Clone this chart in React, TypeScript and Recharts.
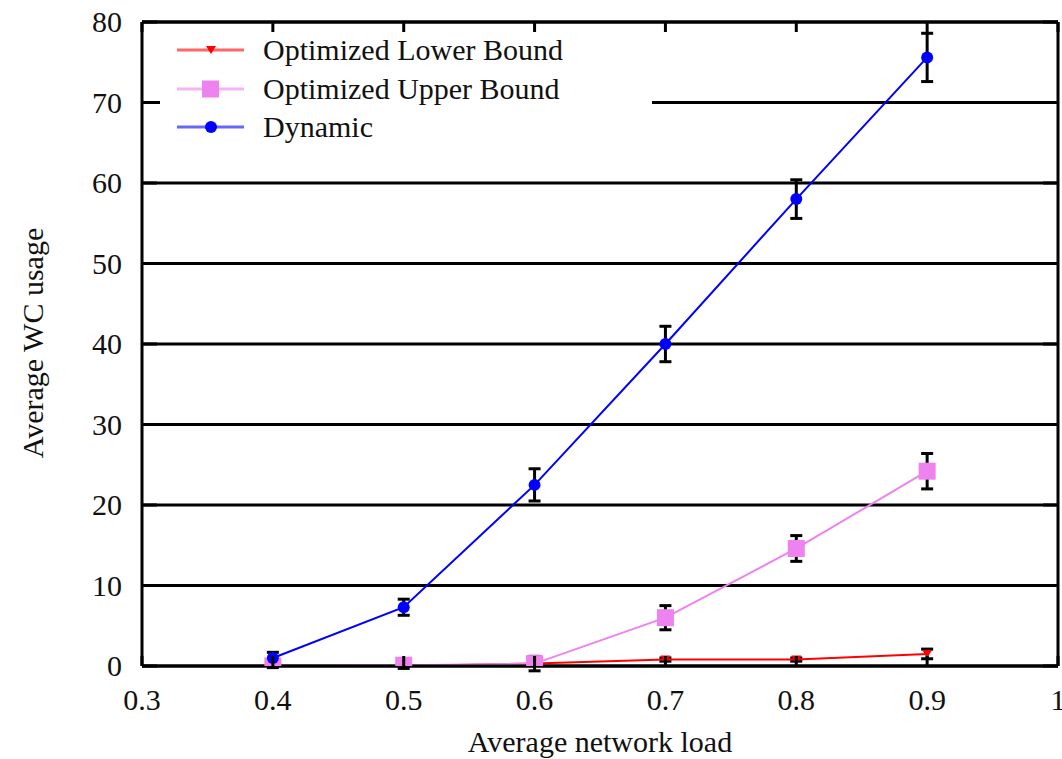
import {
  LineChart, Line, XAxis, YAxis, CartesianGrid, ErrorBar, Label,
} from 'recharts'

// average network load (x)
const loads = [0.4, 0.5, 0.6, 0.7, 0.8, 0.9]

// average WC usage per series, with error half-widths
const lowerBound = [0, 0, 0.3, 0.8, 0.8, 1.5]
const lowerErr = [0, 0, 0.1, 0.2, 0.2, 0.6]
const upperBound = [0, 0.1, 0.3, 6, 14.6, 24.2]
const upperErr = [0.2, 0.4, 0.9, 1.5, 1.6, 2.2]
const dynamic = [1, 7.3, 22.5, 40, 58, 75.6]
const dynamicErr = [0.7, 1.0, 2.0, 2.2, 2.4, 3.0]

const xTicks = [0.3, 0.4, 0.5, 0.6, 0.7, 0.8, 0.9, 1]
const yTicks = [0, 10, 20, 30, 40, 50, 60, 70, 80]

const seriesNames = ['Optimized Lower Bound', 'Optimized Upper Bound', 'Dynamic']
const seriesColors = ['#ff0000', '#ee82ee', '#0000ff']

const data = loads.map((load, i) => ({
  load,
  lower: lowerBound[i],
  lowerErr: lowerErr[i],
  upper: upperBound[i],
  upperErr: upperErr[i],
  dynamic: dynamic[i],
  dynamicErr: dynamicErr[i],
}))

const FONT = 'Liberation Serif, DejaVu Serif, Noto Serif, serif'
const fmtX = (v: number) => (v === 1 ? '1' : v.toFixed(1))

// gnuplot-ish inward ticks on all four sides
// eslint-disable-next-line @typescript-eslint/no-explicit-any
function BottomTick({ x, y, payload }: any) {
  return (
    <g>
      <line x1={x} x2={x} y1={y} y2={y - 10} stroke="#000" strokeWidth={3} />
      <text x={x} y={y + 44} textAnchor="middle" fontSize={30} fontFamily={FONT} fill="#111">
        {fmtX(payload.value)}
      </text>
    </g>
  )
}

// eslint-disable-next-line @typescript-eslint/no-explicit-any
function TopTick({ x, y }: any) {
  return <line x1={x} x2={x} y1={y} y2={y + 10} stroke="#000" strokeWidth={3} />
}

// eslint-disable-next-line @typescript-eslint/no-explicit-any
function LeftTick({ x, y, payload }: any) {
  return (
    <g>
      <line x1={x} x2={x + 15} y1={y} y2={y} stroke="#000" strokeWidth={3} />
      <text x={x - 20} y={y + 10} textAnchor="end" fontSize={30} fontFamily={FONT} fill="#111">
        {payload.value}
      </text>
    </g>
  )
}

// eslint-disable-next-line @typescript-eslint/no-explicit-any
function RightTick({ x, y }: any) {
  return <line x1={x} x2={x - 15} y1={y} y2={y} stroke="#000" strokeWidth={3} />
}

// markers
// eslint-disable-next-line @typescript-eslint/no-explicit-any
const triDot = (p: any) => (
  <path key={`l${p.index}`} d={`M${p.cx - 5},${p.cy - 4} L${p.cx + 5},${p.cy - 4} L${p.cx},${p.cy + 4} Z`} fill="#ff0000" />
)
// eslint-disable-next-line @typescript-eslint/no-explicit-any
const squareDot = (p: any) => (
  <rect key={`u${p.index}`} x={p.cx - 8.5} y={p.cy - 8.5} width={17} height={17} fill="#ee82ee" />
)
// eslint-disable-next-line @typescript-eslint/no-explicit-any
const circleDot = (p: any) => (
  <circle key={`d${p.index}`} cx={p.cx} cy={p.cy} r={6} fill="#0000ff" />
)

function LegendSample({ i }: { i: number }) {
  const c = seriesColors[i]
  return (
    <svg width={70} height={20} style={{ marginRight: 16 }}>
      <line x1={0} x2={67} y1={10} y2={10} stroke={c} strokeWidth={3} strokeOpacity={0.6} />
      {i === 0 && <path d="M29,6 L39,6 L34,14 Z" fill={c} />}
      {i === 1 && <rect x={25} y={1.5} width={17} height={17} fill={c} />}
      {i === 2 && <circle cx={34} cy={10} r={6} fill={c} />}
    </svg>
  )
}

export default function App() {
  return (
    <div style={{ position: 'relative', width: 1062, height: 759, background: '#fff' }}>
      <style>{'body{margin:0;background:#fff}'}</style>
      <LineChart width={1062} height={759} data={data} margin={{ top: 0, right: 0, bottom: 0, left: 0 }}>
        <CartesianGrid vertical={false} stroke="#000" strokeWidth={3} />
        <XAxis
          dataKey="load"
          type="number"
          domain={[0.3, 1]}
          allowDataOverflow
          ticks={xTicks}
          height={93}
          tickSize={0}
          tickMargin={0}
          tick={<BottomTick />}
          axisLine={{ stroke: '#000', strokeWidth: 3 }}
          tickLine={false}
        >
          <Label
            content={() => (
              <text x={600} y={752} textAnchor="middle" fontSize={30} fontFamily={FONT} fill="#111">
                Average network load
              </text>
            )}
          />
        </XAxis>
        <XAxis
          xAxisId="top"
          orientation="top"
          dataKey="load"
          type="number"
          domain={[0.3, 1]}
          allowDataOverflow
          ticks={xTicks}
          height={22}
          tickSize={0}
          tickMargin={0}
          tick={<TopTick />}
          axisLine={{ stroke: '#000', strokeWidth: 3 }}
          tickLine={false}
        />
        <YAxis
          type="number"
          domain={[0, 80]}
          allowDataOverflow
          ticks={yTicks}
          width={142}
          tickSize={0}
          tickMargin={0}
          tick={<LeftTick />}
          axisLine={{ stroke: '#000', strokeWidth: 3 }}
          tickLine={false}
        >
          <Label
            content={() => (
              <text
                x={43}
                y={343}
                transform="rotate(-90 43 343)"
                textAnchor="middle"
                fontSize={30}
                fontFamily={FONT}
                fill="#111"
              >
                Average WC usage
              </text>
            )}
          />
        </YAxis>
        <YAxis
          yAxisId="right"
          orientation="right"
          type="number"
          domain={[0, 80]}
          allowDataOverflow
          ticks={yTicks}
          width={4}
          tickSize={0}
          tickMargin={0}
          tick={<RightTick />}
          axisLine={{ stroke: '#000', strokeWidth: 3 }}
          tickLine={false}
        />

        <Line
          dataKey="lower"
          name={seriesNames[0]}
          stroke={seriesColors[0]}
          strokeWidth={2}
          dot={triDot}
          activeDot={false}
          isAnimationActive={false}
        >
          <ErrorBar dataKey="lowerErr" direction="y" stroke="#000" strokeWidth={3} width={6} />
        </Line>
        <Line
          dataKey="upper"
          name={seriesNames[1]}
          stroke={seriesColors[1]}
          strokeWidth={2}
          dot={squareDot}
          activeDot={false}
          isAnimationActive={false}
        >
          <ErrorBar dataKey="upperErr" direction="y" stroke="#000" strokeWidth={3} width={6} />
        </Line>
        <Line
          dataKey="dynamic"
          name={seriesNames[2]}
          stroke={seriesColors[2]}
          strokeWidth={2}
          dot={circleDot}
          activeDot={false}
          isAnimationActive={false}
        >
          <ErrorBar dataKey="dynamicErr" direction="y" stroke="#000" strokeWidth={3} width={6} />
        </Line>
      </LineChart>

      {/* legend box, white so it hides the 70 gridline */}
      <div
        style={{
          position: 'absolute', left: 160, top: 32, width: 492, height: 118,
          background: '#fff', paddingLeft: 17, boxSizing: 'border-box',
          fontFamily: FONT, fontSize: 30, color: '#111',
        }}
      >
        {seriesNames.map((name, i) => (
          <div key={name} style={{ display: 'flex', alignItems: 'center', height: 38.5, lineHeight: '38px', marginTop: i === 0 ? -1 : 0 }}>
            <LegendSample i={i} />
            <span>{name}</span>
          </div>
        ))}
      </div>
    </div>
  )
}
